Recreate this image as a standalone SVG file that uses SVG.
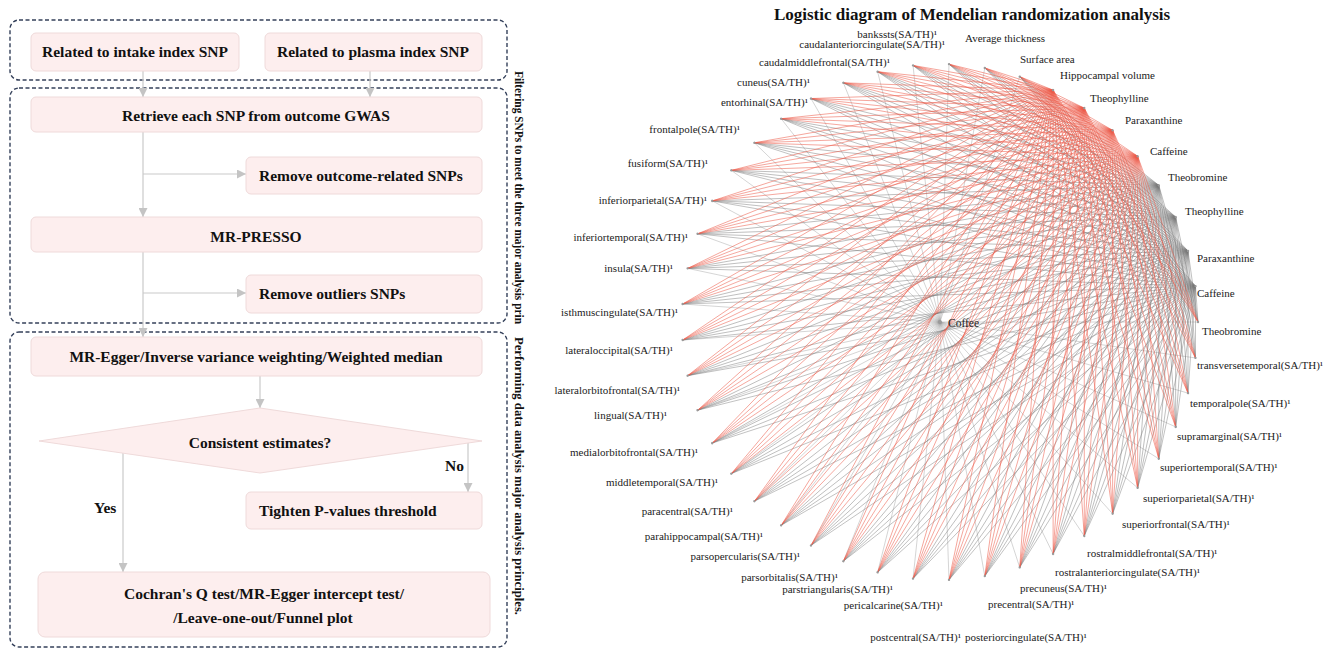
<svg xmlns="http://www.w3.org/2000/svg" xmlns:xlink="http://www.w3.org/1999/xlink" width="1325" height="654" viewBox="0 0 1325 654">
<style>
.bg{fill:#ffffff}
.dash{fill:none;stroke:#34405a;stroke-width:1.4;stroke-dasharray:4 2.5}
.box{fill:#fdeeee;stroke:#efdada;stroke-width:1}
.ft{font-family:"Liberation Serif",serif;font-weight:bold;font-size:15.5px;fill:#111}
.mid{text-anchor:middle}
.arr{fill:none;stroke:#cacaca;stroke-width:1.2;marker-end:url(#ah)}
.side{font-family:"Liberation Serif",serif;font-weight:bold;font-size:11.8px;fill:#111}
.title{font-family:"Liberation Serif",serif;font-weight:bold;font-size:17px;fill:#111;text-anchor:middle}
.lb{font-family:"Liberation Serif",serif;font-size:11px;fill:#222}
.le{text-anchor:end}
.er{fill:none;stroke:#ec5b4a;stroke-width:0.7;stroke-opacity:0.7}
.eg{fill:none;stroke:#7a7a7a;stroke-width:0.7;stroke-opacity:0.62}
.sp{fill:none;stroke:#8c8c8c;stroke-width:0.6;stroke-opacity:0.6}
.dot{fill:#9a9a9a}
</style>
<defs>
<marker id="ah" viewBox="0 0 10 10" refX="10" refY="5" markerWidth="9" markerHeight="9" markerUnits="userSpaceOnUse" orient="auto"><path d="M0 0L10 5L0 10z" fill="#c4c4c4"/></marker>
<path id="fanA" d="M0-258L231.9-113.1M0-258L245.4-79.7M0-258L254.1-44.8M0-258L257.8-9M0-258L256.6 27M0-258L250.3 62.4M0-258L239.2 96.6M0-258L223.4 129M0-258L203.3 158.8M0-258L179.2 185.6M0-258L151.6 208.7M0-258L121.1 227.8M0-258L88.2 242.4M0-258L53.6 252.4M0-258L18 257.4M0-258L-18 257.4M0-258L-53.6 252.4M0-258L-88.2 242.4M0-258L-121.1 227.8M0-258L-151.6 208.7M0-258L-179.2 185.6M0-258L-203.3 158.8M0-258L-223.4 129M0-258L-239.2 96.6M0-258L-250.3 62.4M0-258L-256.6 27M0-258L-257.8-9M0-258L-254.1-44.8M0-258L-245.4-79.7M0-258L-231.9-113.1"/>
<path id="lo1" d="M0-258L213.9-144.3"/>
<path id="lo2" d="M0-258L191.7-172.6M0-258L213.9-144.3"/>
<path id="lo3" d="M0-258L165.8-197.6M0-258L191.7-172.6M0-258L213.9-144.3"/>
<path id="lo4" d="M0-258L136.7-218.8M0-258L165.8-197.6M0-258L191.7-172.6M0-258L213.9-144.3"/>
<path id="lo5" d="M0-258L104.9-235.7M0-258L136.7-218.8M0-258L165.8-197.6M0-258L191.7-172.6M0-258L213.9-144.3"/>
<path id="lo6" d="M0-258L71.1-248M0-258L104.9-235.7M0-258L136.7-218.8M0-258L165.8-197.6M0-258L191.7-172.6M0-258L213.9-144.3"/>
<path id="lo7" d="M0-258L35.9-255.5M0-258L71.1-248M0-258L104.9-235.7M0-258L136.7-218.8M0-258L165.8-197.6M0-258L191.7-172.6M0-258L213.9-144.3"/>
<path id="hi0" d="M0-258L-213.9-144.3M0-258L-191.7-172.6M0-258L-165.8-197.6M0-258L-136.7-218.8M0-258L-104.9-235.7M0-258L-71.1-248M0-258L-35.9-255.5"/>
<path id="hi1" d="M0-258L-213.9-144.3M0-258L-191.7-172.6M0-258L-165.8-197.6M0-258L-136.7-218.8M0-258L-104.9-235.7M0-258L-71.1-248"/>
<path id="hi2" d="M0-258L-213.9-144.3M0-258L-191.7-172.6M0-258L-165.8-197.6M0-258L-136.7-218.8M0-258L-104.9-235.7"/>
<path id="hi3" d="M0-258L-213.9-144.3M0-258L-191.7-172.6M0-258L-165.8-197.6M0-258L-136.7-218.8"/>
<path id="hi4" d="M0-258L-213.9-144.3M0-258L-191.7-172.6M0-258L-165.8-197.6"/>
<path id="hi5" d="M0-258L-213.9-144.3M0-258L-191.7-172.6"/>
<path id="hi6" d="M0-258L-213.9-144.3"/>
<circle id="dt" cx="0" cy="-258" r="1.2"/>
</defs>
<rect class="bg" x="0" y="0" width="1325" height="654"/>

<g id="frames">
<rect class="dash" x="10" y="20" width="497" height="60" rx="9"/>
<rect class="dash" x="10" y="88" width="497" height="235" rx="9"/>
<rect class="dash" x="10" y="332" width="497" height="315" rx="9"/>
</g>

<g id="flow-connectors">
<path class="arr" d="M143 71V97"/>
<path class="arr" d="M370 71V97"/>
<path class="arr" d="M143 132V217"/>
<path class="arr" d="M143 174H246"/>
<path class="arr" d="M143 252V337"/>
<path class="arr" d="M143 293H246"/>
<path class="arr" d="M260 376V408"/>
<path class="arr" d="M468 441V492"/>
<path class="arr" d="M123 453V572"/>
</g>

<g id="f-intake"><rect class="box" x="31" y="33" width="208" height="38" rx="5"/><text class="ft mid" x="135" y="57">Related to intake index SNP</text></g>
<g id="f-plasma"><rect class="box" x="265" y="33" width="217" height="38" rx="5"/><text class="ft mid" x="373" y="57">Related to plasma index SNP</text></g>
<g id="f-retrieve"><rect class="box" x="31" y="97" width="451" height="35" rx="5"/><text class="ft mid" x="256" y="121">Retrieve each SNP from outcome GWAS</text></g>
<g id="f-remove-outcome"><rect class="box" x="246" y="157" width="236" height="37" rx="5"/><text class="ft" x="259" y="181">Remove outcome-related SNPs</text></g>
<g id="f-mrpresso"><rect class="box" x="31" y="217" width="451" height="35" rx="5"/><text class="ft mid" x="256" y="242">MR-PRESSO</text></g>
<g id="f-remove-outliers"><rect class="box" x="246" y="275" width="236" height="38" rx="5"/><text class="ft" x="259" y="299">Remove outliers SNPs</text></g>
<g id="f-mregger"><rect class="box" x="31" y="337" width="451" height="39" rx="5"/><text class="ft mid" x="256" y="362">MR-Egger/Inverse variance weighting/Weighted median</text></g>
<g id="f-consistent"><path class="box" d="M39 441L260 408L482 441L260 473Z"/><text class="ft mid" x="260" y="448">Consistent estimates?</text></g>
<g id="f-tighten"><rect class="box" x="246" y="492" width="236" height="37" rx="5"/><text class="ft" x="259" y="516">Tighten P-values threshold</text></g>
<g id="f-cochran"><rect class="box" x="38" y="572" width="452" height="65" rx="7"/><text class="ft mid" x="264" y="599">Cochran's Q test/MR-Egger intercept test/</text><text class="ft mid" x="263" y="623">/Leave-one-out/Funnel plot</text></g>
<g id="flow-labels">
<text class="ft" x="445" y="471">No</text>
<text class="ft" x="94" y="513">Yes</text>
</g>

<g id="side-labels">
<text class="side" transform="translate(515 71) rotate(90)" textLength="253" lengthAdjust="spacingAndGlyphs">Filtering SNPs to meet the three major analysis prin</text>
<text class="side" transform="translate(515 337) rotate(90)" textLength="278" lengthAdjust="spacingAndGlyphs">Performing data analysis major analysis principles.</text>
</g>

<text class="title" x="972" y="20">Logistic diagram of Mendelian randomization analysis</text>

<g id="connectors">
<g class="sp" transform="translate(940 322) rotate(2)"><path d="M0 0L0-258M0 0L35.9-255.5M0 0L71.1-248M0 0L257.8-9M0 0L256.6 27M0 0L250.3 62.4M0 0L239.2 96.6M0 0L223.4 129M0 0L203.3 158.8M0 0L179.2 185.6M0 0L151.6 208.7M0 0L121.1 227.8M0 0L88.2 242.4M0 0L53.6 252.4M0 0L18 257.4M0 0L-18 257.4M0 0L-53.6 252.4M0 0L-88.2 242.4M0 0L-121.1 227.8M0 0L-151.6 208.7M0 0L-179.2 185.6M0 0L-203.3 158.8M0 0L-223.4 129M0 0L-239.2 96.6M0 0L-250.3 62.4M0 0L-256.6 27M0 0L-257.8-9M0 0L-254.1-44.8M0 0L-245.4-79.7M0 0L-231.9-113.1M0 0L-213.9-144.3M0 0L-191.7-172.6M0 0L-165.8-197.6M0 0L-136.7-218.8M0 0L-104.9-235.7M0 0L-71.1-248M0 0L-35.9-255.5"/></g>
<g class="eg" transform="translate(940 322) rotate(58)"><use xlink:href="#fanA" href="#fanA"/><use xlink:href="#lo4" href="#lo4"/><use xlink:href="#hi4" href="#hi4"/></g>
<g class="eg" transform="translate(940 322) rotate(66)"><use xlink:href="#fanA" href="#fanA"/><use xlink:href="#lo5" href="#lo5"/><use xlink:href="#hi5" href="#hi5"/></g>
<g class="eg" transform="translate(940 322) rotate(74)"><use xlink:href="#fanA" href="#fanA"/><use xlink:href="#lo6" href="#lo6"/><use xlink:href="#hi6" href="#hi6"/></g>
<g class="eg" transform="translate(940 322) rotate(82)"><use xlink:href="#fanA" href="#fanA"/><use xlink:href="#lo7" href="#lo7"/></g>
<g class="er" transform="translate(940 322) rotate(26)"><use xlink:href="#fanA" href="#fanA"/><use xlink:href="#hi0" href="#hi0"/></g>
<g class="er" transform="translate(940 322) rotate(34)"><use xlink:href="#fanA" href="#fanA"/><use xlink:href="#lo1" href="#lo1"/><use xlink:href="#hi1" href="#hi1"/></g>
<g class="er" transform="translate(940 322) rotate(42)"><use xlink:href="#fanA" href="#fanA"/><use xlink:href="#lo2" href="#lo2"/><use xlink:href="#hi2" href="#hi2"/></g>
<g class="er" transform="translate(940 322) rotate(50)"><use xlink:href="#fanA" href="#fanA"/><use xlink:href="#lo3" href="#lo3"/><use xlink:href="#hi3" href="#hi3"/></g>
</g>

<g id="n-coffee"><circle class="dot" cx="940" cy="322" r="2"/><text class="lb" x="948" y="327" style="font-size:11.5px">Coffee</text></g>
<g id="n-avg-thickness"><use class="dot" href="#dt" transform="translate(940 322) rotate(2)"/><text class="lb" x="965" y="42">Average thickness</text></g>
<g id="n-surface-area"><use class="dot" href="#dt" transform="translate(940 322) rotate(10)"/><text class="lb" x="1020" y="63">Surface area</text></g>
<g id="n-hippocampal"><use class="dot" href="#dt" transform="translate(940 322) rotate(18)"/><text class="lb" x="1060" y="79">Hippocampal volume</text></g>
<g id="n-theophylline1"><use class="dot" href="#dt" transform="translate(940 322) rotate(26)"/><text class="lb" x="1090" y="102">Theophylline</text></g>
<g id="n-paraxanthine1"><use class="dot" href="#dt" transform="translate(940 322) rotate(34)"/><text class="lb" x="1125" y="124">Paraxanthine</text></g>
<g id="n-caffeine1"><use class="dot" href="#dt" transform="translate(940 322) rotate(42)"/><text class="lb" x="1150" y="155">Caffeine</text></g>
<g id="n-theobromine1"><use class="dot" href="#dt" transform="translate(940 322) rotate(50)"/><text class="lb" x="1168" y="181">Theobromine</text></g>
<g id="n-theophylline2"><use class="dot" href="#dt" transform="translate(940 322) rotate(58)"/><text class="lb" x="1185" y="215">Theophylline</text></g>
<g id="n-paraxanthine2"><use class="dot" href="#dt" transform="translate(940 322) rotate(66)"/><text class="lb" x="1197" y="262">Paraxanthine</text></g>
<g id="n-caffeine2"><use class="dot" href="#dt" transform="translate(940 322) rotate(74)"/><text class="lb" x="1197" y="297">Caffeine</text></g>
<g id="n-theobromine2"><use class="dot" href="#dt" transform="translate(940 322) rotate(82)"/><text class="lb" x="1202" y="335">Theobromine</text></g>
<g id="n-transversetemporal"><use class="dot" href="#dt" transform="translate(940 322) rotate(90)"/><text class="lb" x="1197" y="369">transversetemporal(SA/TH)¹</text></g>
<g id="n-temporalpole"><use class="dot" href="#dt" transform="translate(940 322) rotate(98)"/><text class="lb" x="1190" y="407">temporalpole(SA/TH)¹</text></g>
<g id="n-supramarginal"><use class="dot" href="#dt" transform="translate(940 322) rotate(106)"/><text class="lb" x="1177" y="440">supramarginal(SA/TH)¹</text></g>
<g id="n-superiortemporal"><use class="dot" href="#dt" transform="translate(940 322) rotate(114)"/><text class="lb" x="1160" y="471">superiortemporal(SA/TH)¹</text></g>
<g id="n-superiorparietal"><use class="dot" href="#dt" transform="translate(940 322) rotate(122)"/><text class="lb" x="1143" y="502">superiorparietal(SA/TH)¹</text></g>
<g id="n-superiorfrontal"><use class="dot" href="#dt" transform="translate(940 322) rotate(130)"/><text class="lb" x="1122" y="528">superiorfrontal(SA/TH)¹</text></g>
<g id="n-rostralmiddlefrontal"><use class="dot" href="#dt" transform="translate(940 322) rotate(138)"/><text class="lb" x="1087" y="557">rostralmiddlefrontal(SA/TH)¹</text></g>
<g id="n-rostralanteriorcingulate"><use class="dot" href="#dt" transform="translate(940 322) rotate(146)"/><text class="lb" x="1055" y="576">rostralanteriorcingulate(SA/TH)¹</text></g>
<g id="n-precuneus"><use class="dot" href="#dt" transform="translate(940 322) rotate(154)"/><text class="lb" x="1020" y="592">precuneus(SA/TH)¹</text></g>
<g id="n-precentral"><use class="dot" href="#dt" transform="translate(940 322) rotate(162)"/><text class="lb" x="988" y="608">precentral(SA/TH)¹</text></g>
<g id="n-posteriorcingulate"><use class="dot" href="#dt" transform="translate(940 322) rotate(170)"/><text class="lb" x="965" y="641">posteriorcingulate(SA/TH)¹</text></g>
<g id="n-postcentral"><use class="dot" href="#dt" transform="translate(940 322) rotate(178)"/><text class="lb le" x="961" y="641">postcentral(SA/TH)¹</text></g>
<g id="n-pericalcarine"><use class="dot" href="#dt" transform="translate(940 322) rotate(186)"/><text class="lb le" x="943" y="609">pericalcarine(SA/TH)¹</text></g>
<g id="n-parstriangularis"><use class="dot" href="#dt" transform="translate(940 322) rotate(194)"/><text class="lb le" x="893" y="593">parstriangularis(SA/TH)¹</text></g>
<g id="n-parsorbitalis"><use class="dot" href="#dt" transform="translate(940 322) rotate(202)"/><text class="lb le" x="838" y="581">parsorbitalis(SA/TH)¹</text></g>
<g id="n-parsopercularis"><use class="dot" href="#dt" transform="translate(940 322) rotate(210)"/><text class="lb le" x="800" y="560">parsopercularis(SA/TH)¹</text></g>
<g id="n-parahippocampal"><use class="dot" href="#dt" transform="translate(940 322) rotate(218)"/><text class="lb le" x="763" y="540">parahippocampal(SA/TH)¹</text></g>
<g id="n-paracentral"><use class="dot" href="#dt" transform="translate(940 322) rotate(226)"/><text class="lb le" x="733" y="515">paracentral(SA/TH)¹</text></g>
<g id="n-middletemporal"><use class="dot" href="#dt" transform="translate(940 322) rotate(234)"/><text class="lb le" x="718" y="486">middletemporal(SA/TH)¹</text></g>
<g id="n-medialorbitofrontal"><use class="dot" href="#dt" transform="translate(940 322) rotate(242)"/><text class="lb le" x="698" y="456">medialorbitofrontal(SA/TH)¹</text></g>
<g id="n-lingual"><use class="dot" href="#dt" transform="translate(940 322) rotate(250)"/><text class="lb le" x="667" y="419">lingual(SA/TH)¹</text></g>
<g id="n-lateralorbitofrontal"><use class="dot" href="#dt" transform="translate(940 322) rotate(258)"/><text class="lb le" x="680" y="394">lateralorbitofrontal(SA/TH)¹</text></g>
<g id="n-lateraloccipital"><use class="dot" href="#dt" transform="translate(940 322) rotate(266)"/><text class="lb le" x="673" y="354">lateraloccipital(SA/TH)¹</text></g>
<g id="n-isthmuscingulate"><use class="dot" href="#dt" transform="translate(940 322) rotate(274)"/><text class="lb le" x="678" y="316">isthmuscingulate(SA/TH)¹</text></g>
<g id="n-insula"><use class="dot" href="#dt" transform="translate(940 322) rotate(282)"/><text class="lb le" x="673" y="272">insula(SA/TH)¹</text></g>
<g id="n-inferiortemporal"><use class="dot" href="#dt" transform="translate(940 322) rotate(290)"/><text class="lb le" x="688" y="241">inferiortemporal(SA/TH)¹</text></g>
<g id="n-inferiorparietal"><use class="dot" href="#dt" transform="translate(940 322) rotate(298)"/><text class="lb le" x="707" y="204">inferiorparietal(SA/TH)¹</text></g>
<g id="n-fusiform"><use class="dot" href="#dt" transform="translate(940 322) rotate(306)"/><text class="lb le" x="708" y="167">fusiform(SA/TH)¹</text></g>
<g id="n-frontalpole"><use class="dot" href="#dt" transform="translate(940 322) rotate(314)"/><text class="lb le" x="740" y="133">frontalpole(SA/TH)¹</text></g>
<g id="n-entorhinal"><use class="dot" href="#dt" transform="translate(940 322) rotate(322)"/><text class="lb le" x="808" y="106">entorhinal(SA/TH)¹</text></g>
<g id="n-cuneus"><use class="dot" href="#dt" transform="translate(940 322) rotate(330)"/><text class="lb le" x="810" y="86">cuneus(SA/TH)¹</text></g>
<g id="n-caudalmiddlefrontal"><use class="dot" href="#dt" transform="translate(940 322) rotate(338)"/><text class="lb le" x="890" y="66">caudalmiddlefrontal(SA/TH)¹</text></g>
<g id="n-caudalanteriorcingulate"><use class="dot" href="#dt" transform="translate(940 322) rotate(346)"/><text class="lb le" x="945" y="48">caudalanteriorcingulate(SA/TH)¹</text></g>
<g id="n-bankssts"><use class="dot" href="#dt" transform="translate(940 322) rotate(354)"/><text class="lb le" x="937" y="38">bankssts(SA/TH)¹</text></g>
</svg>
